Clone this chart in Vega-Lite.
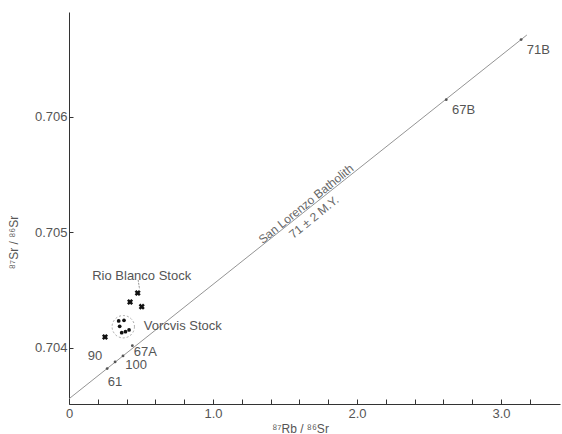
{
  "$schema": "https://vega.github.io/schema/vega-lite/v6.json",
  "width": 491,
  "height": 392,
  "autosize": "none",
  "padding": {"left": 69, "top": 12, "right": 2, "bottom": 30},
  "background": "white",
  "config": {
    "view": {"stroke": null},
    "font": "Liberation Sans",
    "axis": {"grid": false, "domainColor": "#333", "tickColor": "#333", "labelColor": "#555", "titleColor": "#555", "labelFont": "Liberation Sans", "titleFont": "Liberation Sans", "labelFontSize": 13, "titleFontSize": 12, "titleFontWeight": "normal"}
  },
  "datasets": {
    "pts": [
      {"x": 0.477, "y": 0.704476, "group": "Rio Blanco"},
      {"x": 0.424, "y": 0.704398, "group": "Rio Blanco"},
      {"x": 0.505, "y": 0.704358, "group": "Rio Blanco"},
      {"x": 0.25, "y": 0.704095, "group": "Rio Blanco"},
      {"x": 0.345, "y": 0.704234, "group": "Vorcvis"},
      {"x": 0.382, "y": 0.70424, "group": "Vorcvis"},
      {"x": 0.352, "y": 0.704188, "group": "Vorcvis"},
      {"x": 0.366, "y": 0.704132, "group": "Vorcvis"},
      {"x": 0.392, "y": 0.704141, "group": "Vorcvis"},
      {"x": 0.417, "y": 0.704156, "group": "Vorcvis"},
      {"x": 0.44, "y": 0.70402, "group": "San Lorenzo"},
      {"x": 0.375, "y": 0.703931, "group": "San Lorenzo"},
      {"x": 0.32, "y": 0.703879, "group": "San Lorenzo"},
      {"x": 0.265, "y": 0.703822, "group": "San Lorenzo"},
      {"x": 2.62, "y": 0.70615, "group": "San Lorenzo"},
      {"x": 3.14, "y": 0.70667, "group": "San Lorenzo"}
    ],
    "labels": [
      {"x": 0.505, "y": 0.704623, "label": "Rio Blanco Stock"},
      {"x": 0.79, "y": 0.704193, "label": "Vorcvis Stock"},
      {"x": 0.181, "y": 0.703931, "label": "90"},
      {"x": 0.53, "y": 0.703965, "label": "67A"},
      {"x": 0.466, "y": 0.703853, "label": "100"},
      {"x": 0.32, "y": 0.703708, "label": "61"},
      {"x": 2.74, "y": 0.706061, "label": "67B"},
      {"x": 3.26, "y": 0.70658, "label": "71B"}
    ],
    "rotated": [
      {"x": 1.646, "y": 0.705247, "label": "San Lorenzo Batholith"},
      {"x": 1.701, "y": 0.705134, "label": "71 ± 2 M.Y."}
    ],
    "isochron": [
      {"x": 0, "y": 0.70356},
      {"x": 3.18, "y": 0.70671}
    ],
    "leader": [
      {"x": 0.48, "y": 0.70459, "x2": 0.49, "y2": 0.70451}
    ],
    "ring": [
      {"x": 0.377, "y": 0.704184}
    ]
  },
  "encoding": {
    "x": {
      "field": "x", "type": "quantitative",
      "scale": {"domain": [0, 3.41], "nice": false, "zero": false},
      "axis": {
        "values": [0, 0.2, 0.4, 0.6, 0.8, 1, 1.2, 1.4, 1.6, 1.8, 2, 2.2, 2.4, 2.6, 2.8, 3, 3.2],
        "labelExpr": "datum.value == 0 ? '0' : (abs(datum.value - round(datum.value)) < 0.001 ? format(datum.value, '.1f') : '')",
        "tickSize": -5,
        "labelPadding": 8,
        "labelFlush": false,
        "title": "⁸⁷Rb / ⁸⁶Sr",
        "titleX": 231,
        "titleY": 24,
        "titleBaseline": "middle"
      }
    },
    "y": {
      "field": "y", "type": "quantitative",
      "scale": {"domain": [0.703515, 0.706909], "nice": false, "zero": false},
      "axis": {
        "values": [0.704, 0.705, 0.706],
        "format": ".3f",
        "tickSize": -4,
        "labelPadding": 6,
        "title": "⁸⁷Sr / ⁸⁶Sr",
        "titleX": -56,
        "titleY": 230,
        "titleBaseline": "middle",
        "titleAngle": -90
      }
    }
  },
  "layer": [
    {
      "data": {"name": "isochron"},
      "mark": {"type": "line", "color": "#888", "strokeWidth": 0.9}
    },
    {
      "data": {"name": "leader"},
      "mark": {"type": "rule", "color": "#777", "strokeWidth": 0.8, "strokeDash": [2, 1]},
      "encoding": {
        "x2": {"field": "x2"},
        "y2": {"field": "y2"}
      }
    },
    {
      "data": {"name": "ring"},
      "mark": {"type": "point", "filled": false, "size": 500, "stroke": "#777", "strokeWidth": 0.9, "strokeDash": [2, 2]}
    },
    {
      "data": {"name": "pts"},
      "transform": [{"filter": "datum.group == 'Rio Blanco'"}],
      "mark": {"type": "point", "shape": "cross", "angle": 45, "filled": true, "color": "#111", "size": 38, "opacity": 1}
    },
    {
      "data": {"name": "pts"},
      "transform": [{"filter": "datum.group == 'Vorcvis'"}],
      "mark": {"type": "circle", "color": "#111", "size": 14, "opacity": 1}
    },
    {
      "data": {"name": "pts"},
      "transform": [{"filter": "datum.group == 'San Lorenzo'"}],
      "mark": {"type": "circle", "color": "#555", "size": 8, "opacity": 1}
    },
    {
      "data": {"name": "labels"},
      "mark": {"type": "text", "fontSize": 13, "color": "#555", "baseline": "middle", "align": "center", "font": "Liberation Sans"},
      "encoding": {
        "text": {"field": "label"}
      }
    },
    {
      "data": {"name": "rotated"},
      "mark": {"type": "text", "fontSize": 12, "color": "#666", "baseline": "middle", "align": "center", "angle": -39, "font": "Liberation Sans"},
      "encoding": {
        "text": {"field": "label"}
      }
    }
  ]
}
